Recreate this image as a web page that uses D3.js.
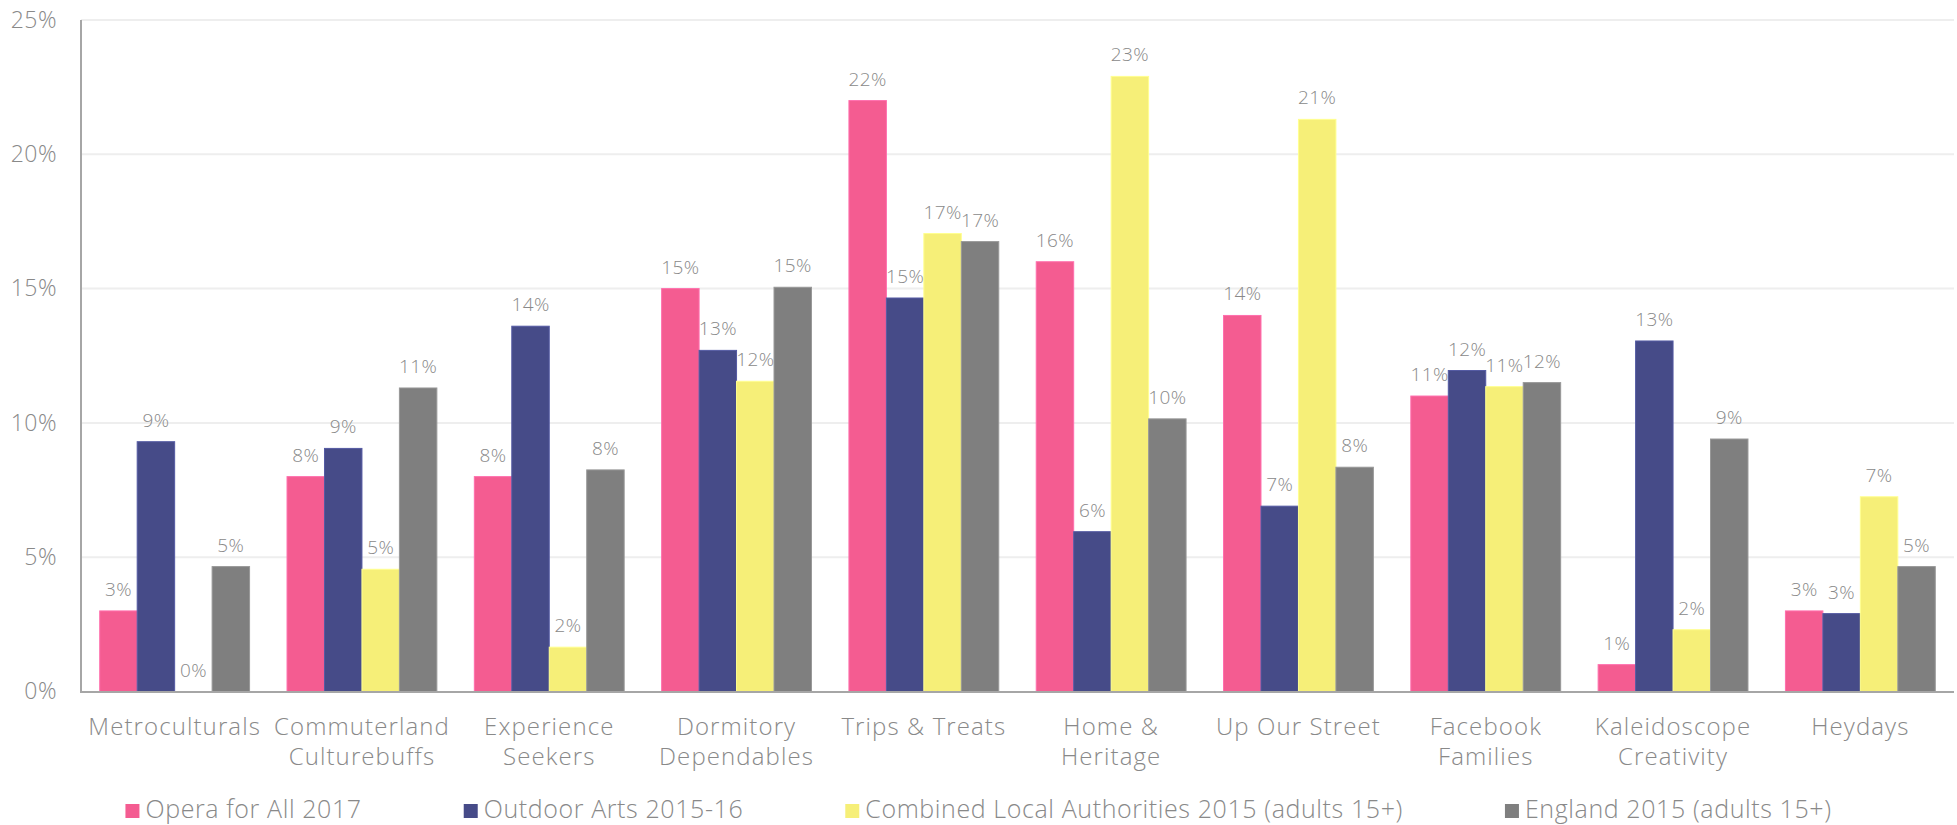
<!DOCTYPE html>
<html>
<head>
<meta charset="utf-8">
<script src="https://cdnjs.cloudflare.com/ajax/libs/d3/7.8.5/d3.min.js"></script>
<style>
  html, body { margin: 0; padding: 0; background: #fff; }
  svg text { font-family: "Open Sans", "DejaVu Sans", sans-serif; font-weight: 300; fill: #898989; }
</style>
</head>
<body>
<div id="chart"></div>
<script>
// segments, one row of line-broken labels each
const segments = [
  ["Metroculturals"],
  ["Commuterland", "Culturebuffs"],
  ["Experience", "Seekers"],
  ["Dormitory", "Dependables"],
  ["Trips & Treats"],
  ["Home &", "Heritage"],
  ["Up Our Street"],
  ["Facebook", "Families"],
  ["Kaleidoscope", "Creativity"],
  ["Heydays"]
];

const seriesNames = [
  "Opera for All 2017",
  "Outdoor Arts 2015-16",
  "Combined Local Authorities 2015 (adults 15+)",
  "England 2015 (adults 15+)"
];
const seriesColors = ["#f45c91", "#464b88", "#f6ef78", "#7f7f7f"];

// percentages per segment
const opera2017     = [3.0, 8.0, 8.0, 15.0, 22.0, 16.0, 14.0, 11.0, 1.0, 3.0];
const outdoorArts   = [9.3, 9.05, 13.6, 12.7, 14.65, 5.95, 6.9, 11.95, 13.05, 2.9];
const localAuth     = [0.0, 4.55, 1.65, 11.55, 17.05, 22.9, 21.3, 11.35, 2.3, 7.25];
const england2015   = [4.65, 11.3, 8.25, 15.05, 16.75, 10.15, 8.35, 11.5, 9.4, 4.65];

const yTicks = [0, 5, 10, 15, 20, 25];

const series = [opera2017, outdoorArts, localAuth, england2015];

const W = 1957, H = 825;
const margin = { top: 20, right: 3, bottom: 133, left: 81 };

const svg = d3.select("#chart").append("svg")
  .attr("width", W)
  .attr("height", H);

const x0 = d3.scaleBand()
  .domain(d3.range(segments.length))
  .range([margin.left, W - margin.right])
  .paddingInner(0.2)
  .paddingOuter(0.1);

const x1 = d3.scaleBand()
  .domain(d3.range(series.length))
  .range([0, x0.bandwidth()]);

const y = d3.scaleLinear()
  .domain([0, 25])
  .range([H - margin.bottom - 0.5, margin.top]);

// gridlines
svg.append("g")
  .selectAll("line")
  .data(yTicks.slice(1))
  .join("line")
  .attr("x1", margin.left)
  .attr("x2", W - margin.right)
  .attr("y1", d => y(d))
  .attr("y2", d => y(d))
  .attr("stroke", "#eeeeee")
  .attr("stroke-width", 2);

// y axis labels
const yAxis = d3.axisLeft(y)
  .tickValues(yTicks)
  .tickSize(0)
  .tickPadding(24)
  .tickFormat(d => d + "%");

svg.append("g")
  .attr("transform", `translate(${margin.left},0)`)
  .call(yAxis)
  .call(g => g.select(".domain").remove())
  .call(g => g.selectAll("text")
    .attr("font-size", 23)
    .attr("fill", "#898989")
    .attr("letter-spacing", 0.5)
    .attr("font-family", null));

// bars
const groups = svg.append("g")
  .selectAll("g")
  .data(segments)
  .join("g")
  .attr("transform", (d, i) => `translate(${x0(i)},0)`);

groups.selectAll("rect")
  .data((d, i) => series.map((s, k) => ({ k: k, v: s[i] })))
  .join("rect")
  .attr("x", d => x1(d.k))
  .attr("width", x1.bandwidth())
  .attr("y", d => y(d.v))
  .attr("height", d => y(0) - y(d.v))
  .attr("fill", d => seriesColors[d.k])
  .attr("stroke", d => d3.color(seriesColors[d.k]).brighter(0.5))
  .attr("stroke-width", 1);

// value labels
groups.selectAll("text.val")
  .data((d, i) => series.map((s, k) => ({ k: k, v: s[i] })))
  .join("text")
  .attr("class", "val")
  .attr("x", d => x1(d.k) + x1.bandwidth() / 2)
  .attr("y", d => y(d.v) - 15)
  .attr("text-anchor", "middle")
  .attr("font-size", 19)
  .attr("letter-spacing", 0.4)
  .text(d => Math.round(d.v) + "%");

// axes lines
svg.append("line")
  .attr("x1", margin.left).attr("x2", margin.left)
  .attr("y1", margin.top).attr("y2", y(0) + 1)
  .attr("stroke", "#a6a6a6")
  .attr("stroke-width", 2);

svg.append("line")
  .attr("x1", margin.left - 1).attr("x2", W - margin.right)
  .attr("y1", y(0) + 0.5).attr("y2", y(0) + 0.5)
  .attr("stroke", "#a6a6a6")
  .attr("stroke-width", 2);

// category labels
const cat = svg.append("g")
  .selectAll("text")
  .data(segments)
  .join("text")
  .attr("text-anchor", "middle")
  .attr("font-size", 24)
  .attr("letter-spacing", 1.1)
  .attr("x", (d, i) => x0(i) + x0.bandwidth() / 2)
  .attr("y", y(0) + 43);

cat.selectAll("tspan")
  .data(d => d)
  .join("tspan")
  .attr("x", function () { return this.parentNode.getAttribute("x"); })
  .attr("dy", (d, i) => i === 0 ? 0 : 30)
  .text(d => d);

// legend, centered along the bottom
const legend = svg.append("g");
const items = legend.selectAll("g")
  .data(seriesNames)
  .join("g");

items.append("rect")
  .attr("width", 14)
  .attr("height", 14)
  .attr("y", -14)
  .attr("fill", (d, i) => seriesColors[i]);

items.append("text")
  .attr("x", 20)
  .attr("font-size", 25)
  .attr("letter-spacing", 0.6)
  .text(d => d);

const gap = 102;
let offset = 0;
items.each(function () {
  d3.select(this).attr("transform", `translate(${offset},0)`);
  offset += this.getBBox().width + gap;
});
const total = offset - gap;
legend.attr("transform", `translate(${(W - total) / 2},818)`);
</script>
</body>
</html>
